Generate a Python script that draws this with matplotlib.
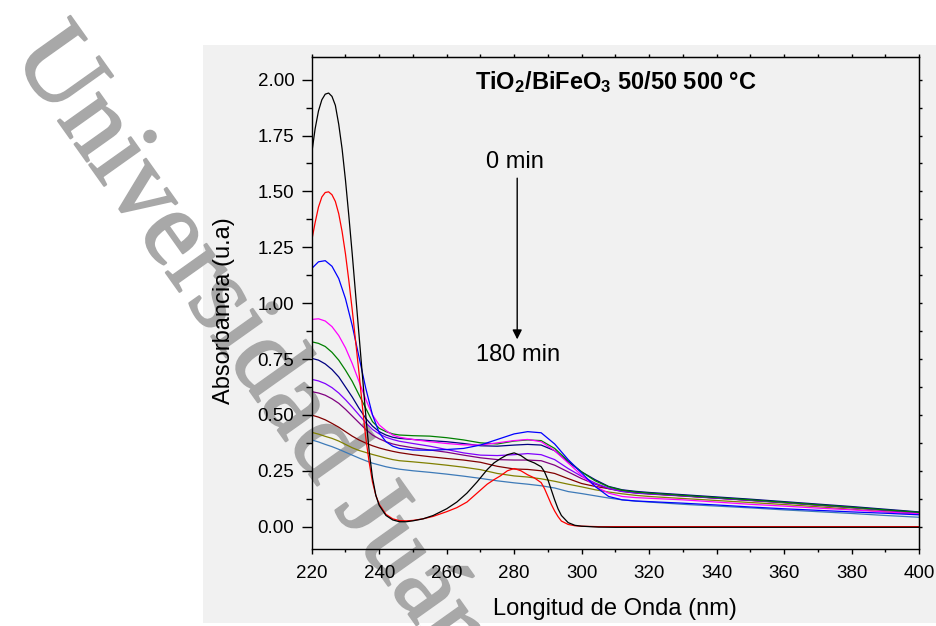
import matplotlib
matplotlib.use("Agg")
import matplotlib.pyplot as plt
import matplotlib.patheffects as pe
from matplotlib.patches import Rectangle
from matplotlib.ticker import MultipleLocator, FormatStrFormatter

plt.rcParams["font.family"] = ["Liberation Sans", "DejaVu Sans"]
plt.rcParams["mathtext.default"] = "regular"

# wavelength grids (nm)
WL_A = [220, 221, 222, 223, 224, 225, 226, 227, 228, 229, 230, 231, 232, 233, 234,
        235, 236, 237, 238, 239, 240, 242, 244, 246, 248, 250, 253, 256, 260, 263,
        266, 269, 272, 274, 276, 278, 280, 282, 284, 286, 288, 289, 290, 291, 292,
        293, 294, 296, 298, 300, 305, 310, 350, 400]
WL_B = [220, 222, 224, 226, 228, 230, 232, 234, 236, 238, 240, 242, 244, 246, 250,
        255, 260, 265, 270, 275, 280, 284, 288, 292, 296, 300, 304, 308, 312, 316,
        320, 330, 340, 350, 360, 370, 380, 390, 400]

# curves on WL_A
black = [1.67, 1.78, 1.86, 1.91, 1.935, 1.94, 1.925, 1.885, 1.80, 1.69, 1.55, 1.39,
         1.22, 1.04, 0.86, 0.68, 0.50, 0.34, 0.22, 0.14, 0.095, 0.05, 0.03, 0.022,
         0.022, 0.026, 0.035, 0.05, 0.08, 0.11, 0.15, 0.20, 0.255, 0.285, 0.305,
         0.322, 0.33, 0.318, 0.297, 0.285, 0.268, 0.245, 0.21, 0.165, 0.12, 0.08,
         0.05, 0.018, 0.006, 0.002, -0.002, -0.003, -0.003, -0.003]
red = [1.28, 1.36, 1.43, 1.475, 1.495, 1.498, 1.485, 1.455, 1.40, 1.32, 1.22, 1.10,
       0.97, 0.83, 0.69, 0.54, 0.40, 0.29, 0.20, 0.14, 0.10, 0.055, 0.035, 0.027,
       0.026, 0.028, 0.035, 0.046, 0.067, 0.085, 0.11, 0.15, 0.19, 0.21, 0.228,
       0.25, 0.26, 0.25, 0.232, 0.218, 0.197, 0.17, 0.135, 0.10, 0.07, 0.045,
       0.025, 0.01, 0.004, 0.002, 0.0, 0.0, 0.0, 0.0]

# curves on WL_B
blue = [1.155, 1.185, 1.19, 1.165, 1.11, 1.02, 0.90, 0.76, 0.62, 0.50, 0.42, 0.38,
        0.36, 0.35, 0.343, 0.342, 0.345, 0.35, 0.365, 0.39, 0.415, 0.425, 0.42,
        0.37, 0.30, 0.24, 0.18, 0.135, 0.12, 0.115, 0.112, 0.105, 0.097, 0.088,
        0.08, 0.073, 0.066, 0.06, 0.053]
magenta = [0.927, 0.93, 0.92, 0.895, 0.855, 0.80, 0.73, 0.65, 0.57, 0.50, 0.455,
           0.43, 0.41, 0.40, 0.39, 0.38, 0.372, 0.366, 0.365, 0.375, 0.385, 0.39,
           0.38, 0.34, 0.285, 0.23, 0.18, 0.15, 0.135, 0.13, 0.127, 0.12, 0.11,
           0.10, 0.092, 0.083, 0.075, 0.066, 0.057]
green = [0.827, 0.82, 0.806, 0.78, 0.745, 0.70, 0.65, 0.59, 0.53, 0.47, 0.44, 0.425,
         0.415, 0.41, 0.407, 0.405, 0.398, 0.388, 0.375, 0.37, 0.383, 0.388, 0.385,
         0.35, 0.295, 0.245, 0.205, 0.178, 0.163, 0.155, 0.15, 0.14, 0.13, 0.12,
         0.109, 0.098, 0.087, 0.075, 0.064]
navy = [0.753, 0.745, 0.728, 0.703, 0.67, 0.625, 0.58, 0.53, 0.485, 0.45, 0.425,
        0.41, 0.40, 0.395, 0.39, 0.385, 0.38, 0.372, 0.362, 0.36, 0.365, 0.368,
        0.365, 0.34, 0.29, 0.245, 0.21, 0.18, 0.165, 0.158, 0.153, 0.143, 0.133,
        0.123, 0.112, 0.101, 0.09, 0.078, 0.066]
violet = [0.659, 0.652, 0.64, 0.622, 0.598, 0.568, 0.535, 0.50, 0.465, 0.435, 0.415,
          0.40, 0.39, 0.382, 0.372, 0.36, 0.345, 0.33, 0.32, 0.318, 0.322, 0.327,
          0.322, 0.30, 0.26, 0.225, 0.195, 0.172, 0.158, 0.151, 0.147, 0.138, 0.128,
          0.118, 0.108, 0.097, 0.086, 0.074, 0.062]
purple = [0.604, 0.598, 0.588, 0.572, 0.552, 0.525, 0.495, 0.465, 0.435, 0.41, 0.393,
          0.38, 0.37, 0.363, 0.353, 0.343, 0.333, 0.32, 0.308, 0.30, 0.298, 0.298,
          0.295, 0.275, 0.245, 0.215, 0.19, 0.17, 0.157, 0.15, 0.146, 0.137, 0.127,
          0.117, 0.107, 0.096, 0.085, 0.073, 0.06]
wine = [0.499, 0.49, 0.478, 0.462, 0.445, 0.425, 0.405, 0.388, 0.374, 0.362, 0.352,
        0.344, 0.337, 0.331, 0.322, 0.313, 0.305, 0.298, 0.288, 0.27, 0.258, 0.256,
        0.25, 0.238, 0.215, 0.193, 0.18, 0.17, 0.16, 0.153, 0.148, 0.138, 0.128,
        0.118, 0.108, 0.097, 0.086, 0.074, 0.062]
olive = [0.422, 0.414, 0.404, 0.395, 0.383, 0.368, 0.353, 0.341, 0.332, 0.323, 0.315,
         0.307, 0.30, 0.295, 0.29, 0.283, 0.275, 0.266, 0.255, 0.238, 0.227, 0.222,
         0.214, 0.203, 0.19, 0.178, 0.165, 0.155, 0.147, 0.14, 0.135, 0.126, 0.117,
         0.108, 0.099, 0.089, 0.078, 0.067, 0.055]
steel = [0.388, 0.379, 0.368, 0.358, 0.346, 0.333, 0.32, 0.307, 0.295, 0.284, 0.276,
         0.268, 0.262, 0.257, 0.25, 0.243, 0.235, 0.226, 0.216, 0.205, 0.196, 0.19,
         0.183, 0.173, 0.157, 0.148, 0.138, 0.128, 0.12, 0.114, 0.11, 0.10, 0.092,
         0.084, 0.075, 0.067, 0.059, 0.05, 0.042]

SERIES_A = [(black, "#000000"), (red, "#ff0000")]
SERIES_B = [(blue, "#0000ff"), (magenta, "#ff00ff"), (green, "#008000"),
            (navy, "#000080"), (violet, "#8000ff"), (purple, "#800080"),
            (wine, "#800000"), (olive, "#808000"), (steel, "#3d7ab8")]

fig = plt.figure(figsize=(9.37, 6.26), dpi=100)
fig.add_artist(Rectangle((0.2167, 0.0048), 0.7833, 0.9233, transform=fig.transFigure,
                         facecolor="#f1f1f1", edgecolor="none", zorder=-2))
# watermark of the source document, sits behind the plot
fig.text(0.012, 0.912, "Universidad Juárez Autónoma de Tabasco", rotation=-54.6,
         rotation_mode="anchor", ha="left", va="baseline", fontsize=78,
         family="Liberation Serif", color="#a8a8a8", zorder=-1,
         path_effects=[pe.withStroke(linewidth=1.5, foreground="#a8a8a8")])

ax = fig.add_axes([0.3327, 0.1230, 0.6481, 0.7855])
ax.set_facecolor("none")

for ys, c in SERIES_B[::-1]:
    ax.plot(WL_B, ys, color=c, lw=0.9)
for ys, c in SERIES_A[::-1]:
    ax.plot(WL_A, ys, color=c, lw=0.9)

ax.set_xlim(220, 400)
ax.set_ylim(-0.1, 2.1)
ax.xaxis.set_major_locator(MultipleLocator(20))
ax.xaxis.set_minor_locator(MultipleLocator(10))
ax.yaxis.set_major_locator(MultipleLocator(0.25))
ax.yaxis.set_minor_locator(MultipleLocator(0.125))
ax.yaxis.set_major_formatter(FormatStrFormatter("%.2f"))
for s in ax.spines.values():
    s.set_linewidth(1.0)
ax.tick_params(axis="x", which="major", direction="out", length=3.6, width=1.0,
               labelsize=13.5, pad=8)
ax.tick_params(axis="x", which="minor", direction="out", length=2, width=1.0)
ax.tick_params(axis="y", which="major", direction="out", length=7, width=1.0,
               labelsize=13.5, pad=5.5)
ax.tick_params(axis="y", which="minor", direction="out", length=4, width=1.0)

top = ax.secondary_xaxis("top")
top.xaxis.set_major_locator(MultipleLocator(10))
top.tick_params(direction="out", length=2, width=1.0, labeltop=False)
right = ax.secondary_yaxis("right")
right.yaxis.set_major_locator(MultipleLocator(0.125))
right.tick_params(direction="out", length=2, width=1.0, labelright=False)

ax.set_xlabel("Longitud de Onda (nm)", fontsize=17)
ax.xaxis.set_label_coords(0.5, -0.1)
ax.set_ylabel("Absorbancia (u.a)", fontsize=17)
ax.yaxis.set_label_coords(-0.126, 0.484)

ax.text(310, 1.988, r"TiO$_2$/BiFeO$_3$ 50/50 500 °C", fontsize=17,
        fontweight="bold", ha="center", va="center")
ax.annotate("", xy=(280.9, 0.838), xytext=(280.9, 1.559),
            arrowprops=dict(arrowstyle="-|>", color="black", lw=1.0,
                            mutation_scale=14, shrinkA=0, shrinkB=0))
ax.text(280.1, 1.630, "0 min", fontsize=17, ha="center", va="center")
ax.text(281.1, 0.768, "180 min", fontsize=17, ha="center", va="center")

fig.savefig("out.png", dpi=100)
